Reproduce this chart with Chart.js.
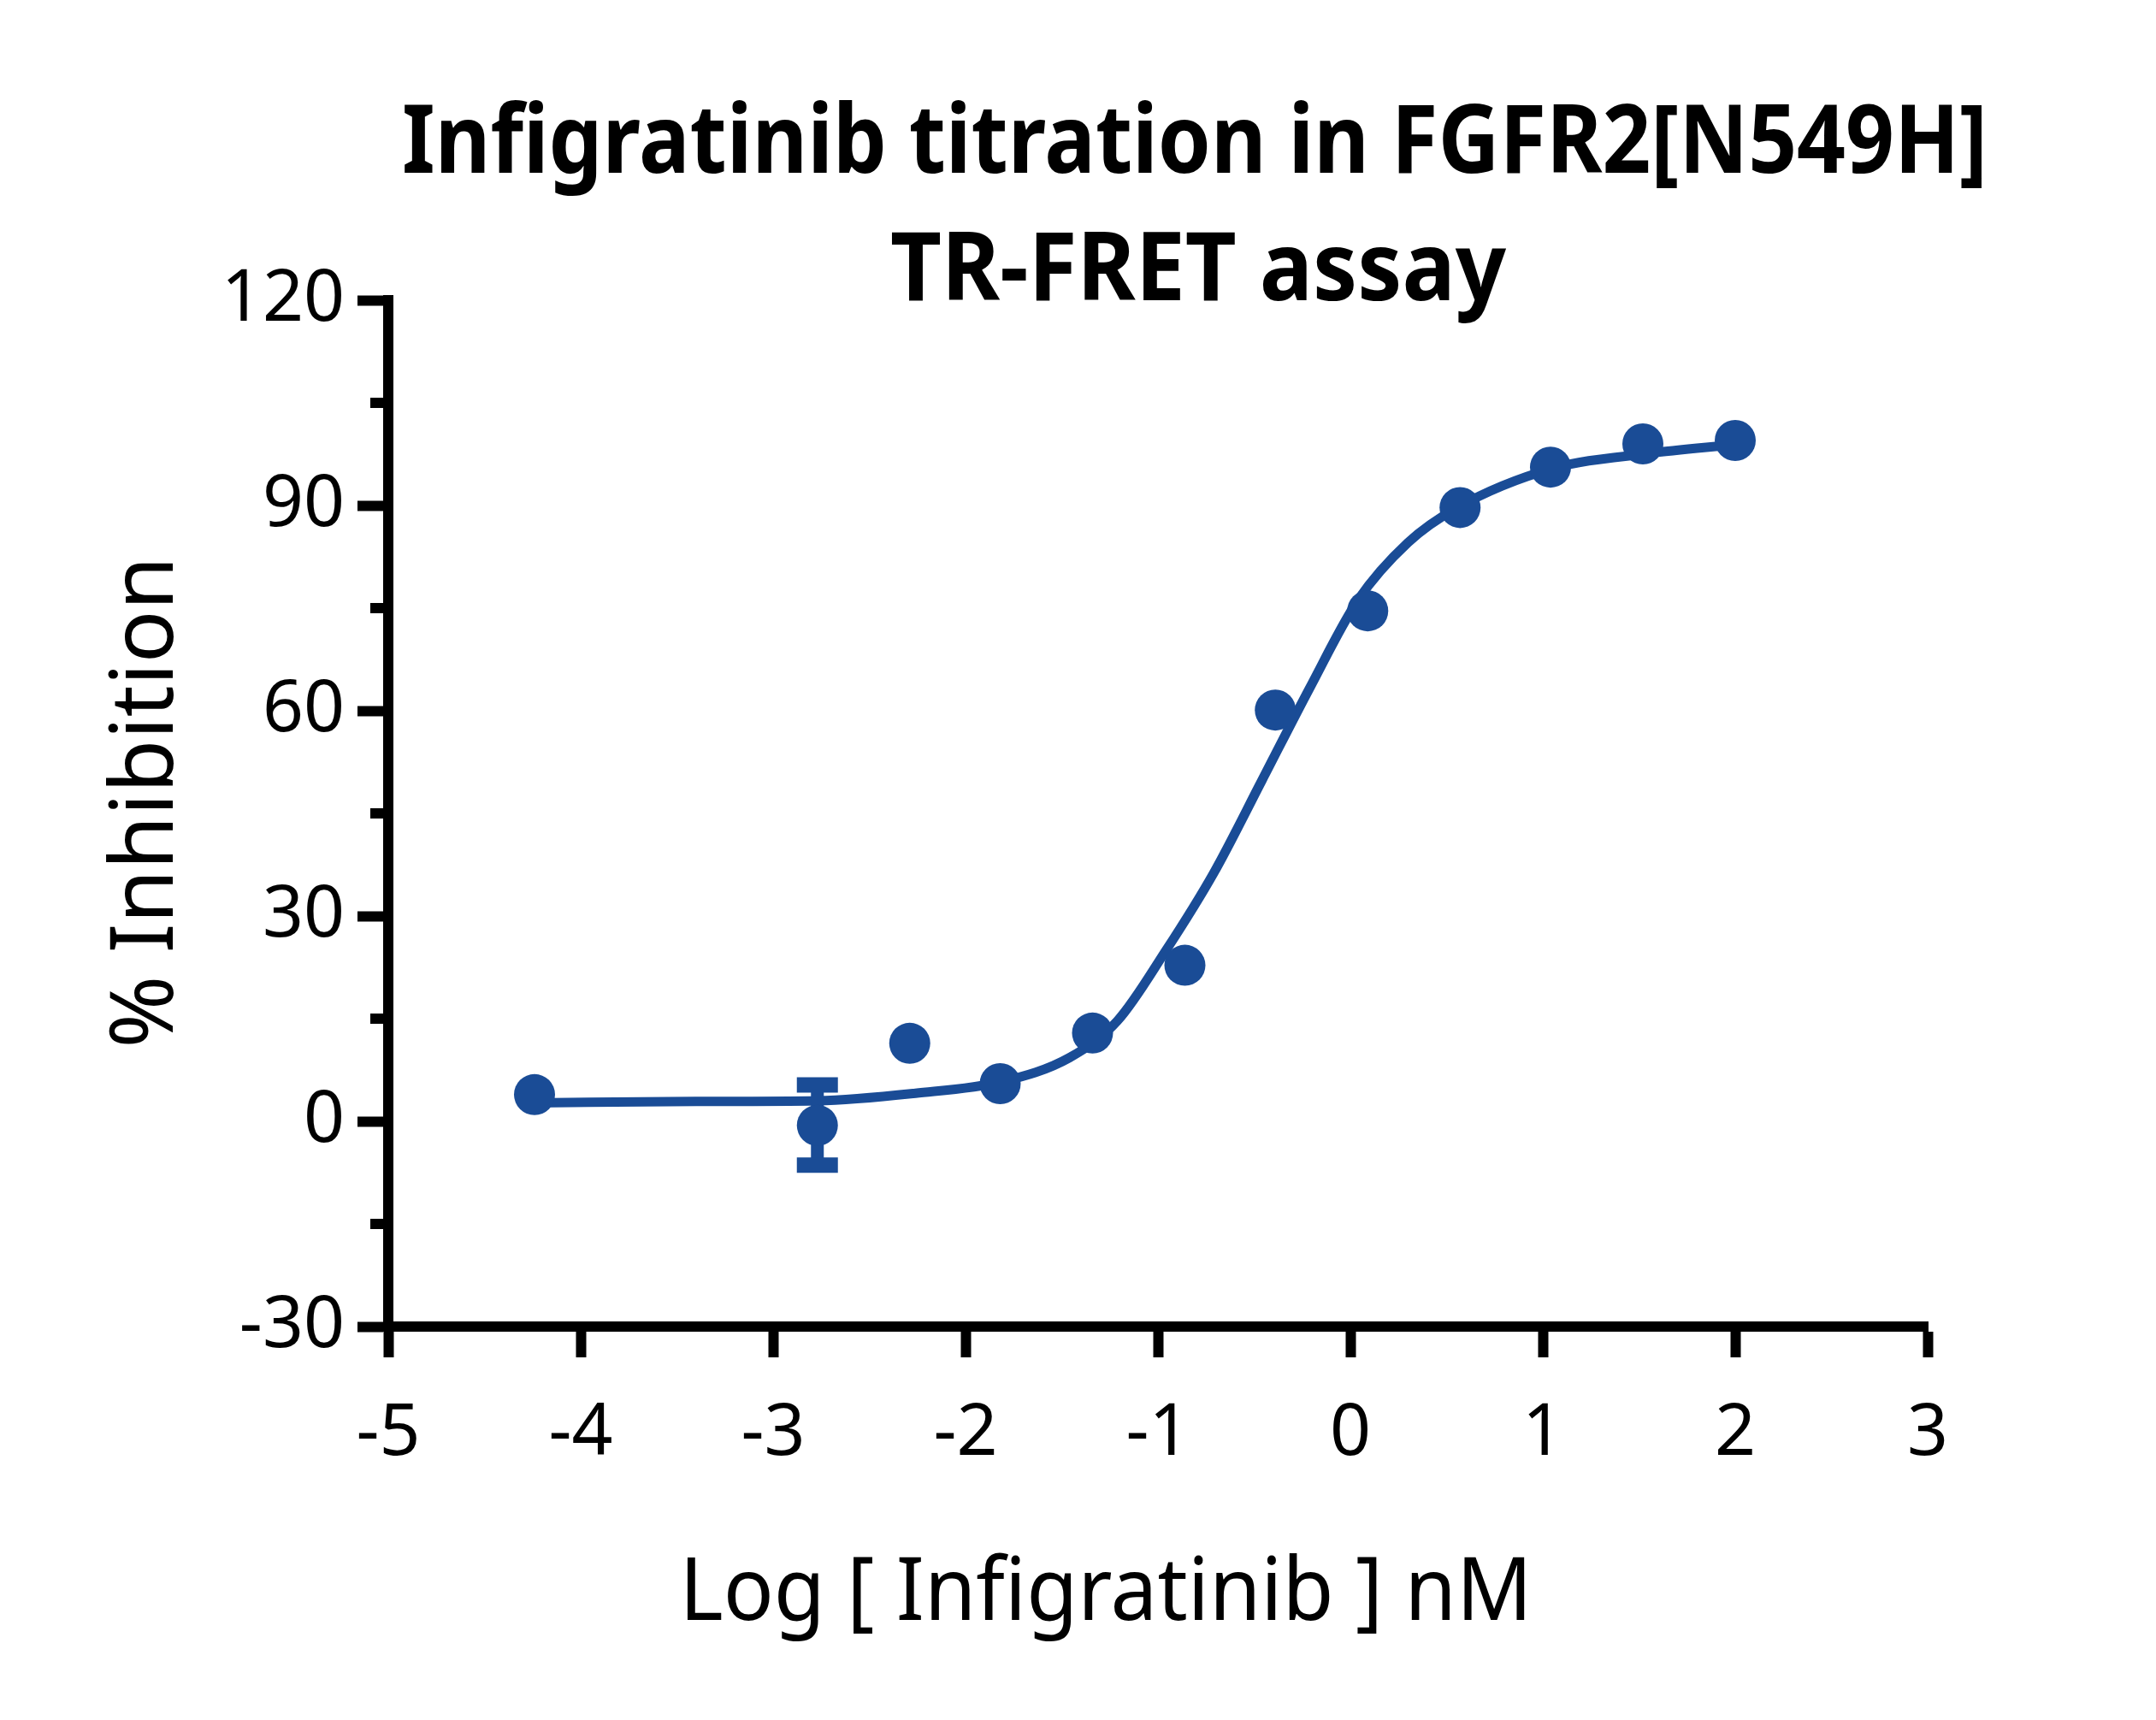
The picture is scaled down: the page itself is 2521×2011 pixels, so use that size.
<!DOCTYPE html>
<html>
<head>
<meta charset="utf-8">
<script src="https://cdn.jsdelivr.net/npm/chart.js@4.4.0/dist/chart.umd.min.js"></script>
<style>
  html, body { margin: 0; padding: 0; background: #fff; }
  canvas { display: block; }
</style>
</head>
<body>
<canvas id="chart" width="2521" height="2011" style="width:2521px;height:2011px"></canvas>
<script>
// measured points (log nM vs % inhibition)
const doseLog = [-4.24, -2.77, -2.29, -1.82, -1.34, -0.86, -0.39, 0.09, 0.57, 1.04, 1.52, 2.0];
const inhibition = [3.9, -0.6, 11.4, 5.5, 12.9, 22.8, 60.1, 74.6, 89.7, 95.6, 99.0, 99.5];

// the one point with a visible error bar
const errX = -2.77;
const errHigh = 5.3;
const errLow = -6.4;

// fitted curve
const fitX = [-4.24, -3.4, -2.77, -2.26, -1.81, -1.46, -1.21, -0.96, -0.71, -0.46, -0.21, 0.04, 0.30, 0.55, 1.05, 1.55, 2.0];
const fitY = [2.7, 2.9, 3.0, 4.1, 5.8, 9.3, 14.7, 24.9, 36.3, 49.8, 63.4, 76.2, 84.6, 89.6, 95.4, 97.6, 98.9];

// axes
const xTicks = [-5, -4, -3, -2, -1, 0, 1, 2, 3];
const yTicks = [-30, 0, 30, 60, 90, 120];
const yMinorTicks = [-15, 15, 45, 75, 105];

const titleLines = ['Infigratinib titration in FGFR2[N549H]', 'TR-FRET assay'];
const xTitle = 'Log [ Infigratinib ] nM';
const yTitle = '% Inhibition';

const blue = '#1a4c96';
const font = '"Noto Sans", "DejaVu Sans", sans-serif';

// minor y ticks and the text that sits off-centre in the original
const extras = {
  id: 'extras',
  afterDraw(chart) {
    const ctx = chart.ctx;
    const ys = chart.scales.y;
    ctx.save();
    ctx.strokeStyle = '#000';
    ctx.lineWidth = 12;
    yMinorTicks.forEach(v => {
      const py = ys.getPixelForValue(v);
      ctx.beginPath();
      ctx.moveTo(ys.right - 21, py);
      ctx.lineTo(ys.right, py);
      ctx.stroke();
    });

    ctx.fillStyle = '#000';
    ctx.textAlign = 'center';
    ctx.textBaseline = 'alphabetic';
    ctx.font = 'bold 111px ' + font;
    ctx.fillText(titleLines[0], 1397, 202, 1854);
    ctx.fillText(titleLines[1], 1401, 351, 720);

    ctx.font = '102px ' + font;
    ctx.fillText(xTitle, 1293, 1894, 997);

    ctx.translate(202, 938);
    ctx.rotate(-Math.PI / 2);
    ctx.fillText(yTitle, 0, 0, 587);
    ctx.restore();
  }
};

new Chart(document.getElementById('chart').getContext('2d'), {
  type: 'scatter',
  data: {
    datasets: [
      {
        label: 'data',
        data: doseLog.map((x, i) => ({x: x, y: inhibition[i]})),
        showLine: false,
        pointRadius: 24,
        pointBackgroundColor: blue,
        pointBorderWidth: 0,
        clip: false
      },
      {
        label: 'error',
        type: 'line',
        data: [{x: errX, y: errHigh}, {x: errX, y: errLow}],
        borderColor: blue,
        borderWidth: 15,
        pointStyle: 'line',
        pointRadius: 24,
        pointBorderWidth: 18,
        pointBorderColor: blue,
        clip: false
      },
      {
        label: 'fit',
        type: 'line',
        data: fitX.map((x, i) => ({x: x, y: fitY[i]})),
        borderColor: blue,
        borderWidth: 11,
        pointRadius: 0,
        cubicInterpolationMode: 'monotone',
        fill: false,
        clip: false
      }
    ]
  },
  options: {
    responsive: false,
    devicePixelRatio: 1,
    animation: false,
    layout: { padding: { top: 351, right: 267, bottom: 0, left: 0 } },
    plugins: { legend: { display: false }, tooltip: { enabled: false }, title: { display: false } },
    scales: {
      x: {
        type: 'linear',
        min: -5,
        max: 3,
        afterFit: s => { s.height = 460; },
        afterBuildTicks: s => { s.ticks = xTicks.map(v => ({value: v})); },
        border: { color: '#000', width: 12 },
        grid: { drawOnChartArea: false, drawTicks: true, tickLength: 36, tickWidth: 12, tickColor: '#000' },
        ticks: { color: '#000', font: { family: font, size: 84 }, padding: 40, maxRotation: 0 }
      },
      y: {
        type: 'linear',
        min: -30,
        max: 120,
        afterFit: s => { s.width = 454; },
        afterBuildTicks: s => { s.ticks = yTicks.map(v => ({value: v})); },
        border: { color: '#000', width: 12 },
        grid: { drawOnChartArea: false, drawTicks: true, tickLength: 36, tickWidth: 12, tickColor: '#000' },
        ticks: { color: '#000', font: { family: font, size: 84 }, padding: 15 }
      }
    }
  },
  plugins: [extras]
});
</script>
</body>
</html>
